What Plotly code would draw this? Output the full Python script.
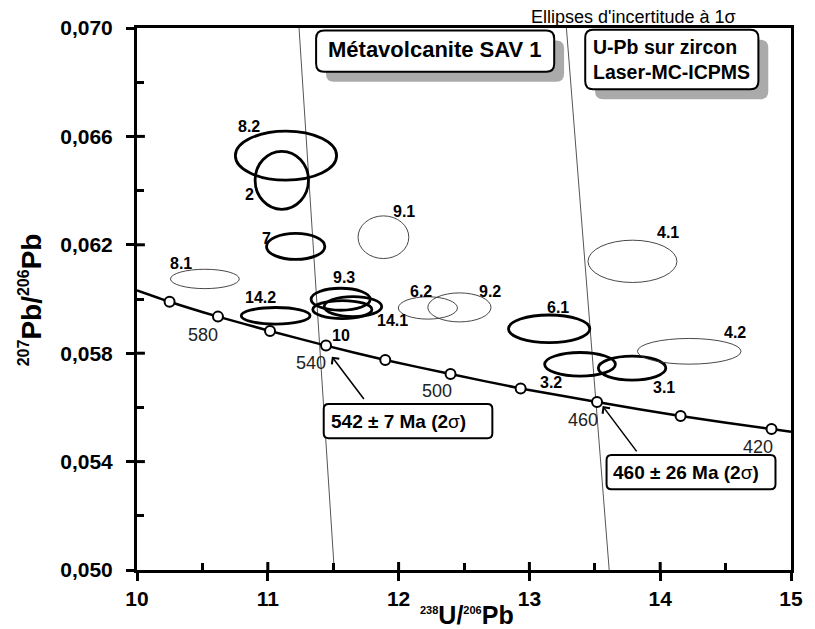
import plotly.graph_objects as go

FONT = "Liberation Sans, Arial, sans-serif"

# ---------------- data ----------------
# Concordia curve (Tera-Wasserburg)
curve_x = [10.0, 10.249, 10.619, 11.017, 11.445, 11.898, 12.397, 12.933, 13.517, 14.156, 14.851, 15.0]
curve_y = [0.06032, 0.05990, 0.05935, 0.05882, 0.05828, 0.05775, 0.05723, 0.05670, 0.05620, 0.05568, 0.05520, 0.05510]

# age ticks on the concordia (Ma)
mark_ages = [600, 580, 560, 540, 520, 500, 480, 460, 440, 420]
mark_x = [10.249, 10.619, 11.017, 11.445, 11.898, 12.397, 12.933, 13.517, 14.156, 14.851]
mark_y = [0.05990, 0.05935, 0.05882, 0.05828, 0.05775, 0.05723, 0.05670, 0.05620, 0.05568, 0.05520]

# labelled ages and label positions
age_labels = ["580", "540", "500", "460", "420"]
age_label_x = [10.506, 11.329, 12.294, 13.409, 14.748]
age_label_y = [0.05867, 0.05764, 0.05662, 0.05554, 0.05455]

# analyses: 1-sigma error ellipses (centre, half-widths)
spot_names = ["8.2", "2", "7", "8.1", "14.2", "9.1", "9.3", "14.1", "10", "6.2", "9.2", "6.1", "3.2", "3.1", "4.2", "4.1"]
spot_x = [11.139, 11.107, 11.213, 10.519, 11.060, 11.884, 11.557, 11.651, 11.570, 12.224, 12.465, 13.151, 13.387, 13.785, 14.222, 13.788]
spot_y = [0.06529, 0.06438, 0.06194, 0.06074, 0.05938, 0.06228, 0.05999, 0.05972, 0.05961, 0.05967, 0.05969, 0.05890, 0.05759, 0.05745, 0.05807, 0.06139]
spot_sx = [0.387, 0.204, 0.223, 0.263, 0.263, 0.194, 0.226, 0.220, 0.226, 0.226, 0.2415, 0.311, 0.2705, 0.258, 0.396, 0.340]
spot_sy = [0.000904, 0.00107, 0.00048, 0.000357, 0.000307, 0.000787, 0.000406, 0.000369, 0.000332, 0.000412, 0.000535, 0.000510, 0.000436, 0.000443, 0.000474, 0.000780]
spot_used = [True, True, True, False, True, False, True, True, True, False, False, True, True, True, False, False]
spot_label_x = [10.853, 10.859, 10.989, 10.338, 10.946, 12.042, 11.579, 11.954, 11.563, 12.168, 12.696, 13.220, 13.167, 14.031, 14.572, 14.063]
spot_label_y = [0.06638, 0.06384, 0.06224, 0.06132, 0.06006, 0.06322, 0.06079, 0.05920, 0.05867, 0.06027, 0.06027, 0.05969, 0.05692, 0.05673, 0.05877, 0.06246]

# discordia lines (x at y = 0.070 and y = 0.050)
disc_y = [0.070, 0.050]
disc1_x = [11.239, 11.508]
disc2_x = [13.283, 13.610]

# intercept ages and arrow tips
intercept_texts = ["542 ± 7 Ma (2σ)", "460 ± 26 Ma (2σ)"]
intercept_x = [11.490, 13.560]
intercept_y = [0.05787, 0.05605]

# axes
x_ticks = [10, 11, 12, 13, 14, 15]
x_minor = [10.5, 11.5, 12.5, 13.5, 14.5]
y_ticks = [0.050, 0.054, 0.058, 0.062, 0.066, 0.070]
y_minor = [0.052, 0.056, 0.060, 0.064, 0.068]

# ---------------- layout geometry ----------------
W, H = 815, 629
ML, MR, MT, MB = 137, 16, 28, 59
PW, PH = W - ML - MR, H - MT - MB


def pxx(p):
    return (p - ML) / PW


def pxy(p):
    return 1 - (p - MT) / PH


def rrect(x0, y0, x1, y1, r):
    rx, ry = r, r
    pts = [
        ("M", [(x0 + rx, y0)]),
        ("L", [(x1 - rx, y0)]),
        ("Q", [(x1, y0), (x1, y0 + ry)]),
        ("L", [(x1, y1 - ry)]),
        ("Q", [(x1, y1), (x1 - rx, y1)]),
        ("L", [(x0 + rx, y1)]),
        ("Q", [(x0, y1), (x0, y1 - ry)]),
        ("L", [(x0, y0 + ry)]),
        ("Q", [(x0, y0), (x0 + rx, y0)]),
    ]
    s = ""
    for cmd, ps in pts:
        s += cmd + " ".join(f"{pxx(a):.5f},{pxy(b):.5f}" for a, b in ps) + " "
    return s + "Z"


fig = go.Figure()

# discordia lines
for dx in (disc1_x, disc2_x):
    fig.add_trace(go.Scatter(x=dx, y=disc_y, mode="lines",
                             line=dict(color="#555555", width=1), hoverinfo="skip"))

# concordia
fig.add_trace(go.Scatter(x=curve_x, y=curve_y, mode="lines",
                         line=dict(color="black", width=2.5, shape="spline", smoothing=0.6),
                         hoverinfo="skip"))
fig.add_trace(go.Scatter(x=mark_x, y=mark_y, mode="markers",
                         marker=dict(symbol="circle", size=10, color="white",
                                     line=dict(color="black", width=2)),
                         text=[str(a) for a in mark_ages], hoverinfo="text"))

shapes = []
# error ellipses
for cx, cy, sx, sy, used in zip(spot_x, spot_y, spot_sx, spot_sy, spot_used):
    shapes.append(dict(type="circle", xref="x", yref="y",
                       x0=cx - sx, x1=cx + sx, y0=cy - sy, y1=cy + sy,
                       line=dict(color="black" if used else "#333333", width=2.8 if used else 0.9),
                       fillcolor="rgba(0,0,0,0)"))

# inside part of major ticks (ticks cross the axis in the original)
for v in x_ticks[1:-1]:
    shapes.append(dict(type="line", xref="x", yref="paper", x0=v, x1=v, y0=0, y1=8 / PH,
                       line=dict(color="black", width=3)))
for v in y_ticks[1:-1]:
    shapes.append(dict(type="line", xref="paper", yref="y", x0=0, x1=8 / PW, y0=v, y1=v,
                       line=dict(color="black", width=3)))

# title boxes with shadows
boxes = [(318.3, 30.5, 559.3, 71.7), (590.7, 29.8, 766.0, 89.3)]
for (x0, y0, x1, y1) in boxes:
    shapes.append(dict(type="path", xref="paper", yref="paper",
                       path=rrect(x0 + 10, y0 + 10, x1 + 10, y1 + 10, 8),
                       fillcolor="#aaaaaa", line=dict(width=0)))
    shapes.append(dict(type="path", xref="paper", yref="paper",
                       path=rrect(x0, y0, x1, y1, 8),
                       fillcolor="white", line=dict(color="black", width=2)))

# intercept boxes
ibox = [(326.0, 404.0, 496.7, 438.3), (612.3, 455.0, 783.3, 489.3)]
for (x0, y0, x1, y1) in ibox:
    shapes.append(dict(type="path", xref="paper", yref="paper",
                       path=rrect(x0, y0, x1, y1, 5),
                       fillcolor="white", line=dict(color="black", width=2)))

annotations = []
# ellipse labels
for name, lx, ly in zip(spot_names, spot_label_x, spot_label_y):
    annotations.append(dict(x=lx, y=ly, xref="x", yref="y", text=f"<b>{name}</b>",
                            showarrow=False, font=dict(family=FONT, size=16, color="black")))
# age labels
for t, lx, ly in zip(age_labels, age_label_x, age_label_y):
    annotations.append(dict(x=lx, y=ly, xref="x", yref="y", text=t, showarrow=False,
                            font=dict(family=FONT, size=18, color="#222222")))

# arrows to intercepts
arrow_off = [(34, 45), (36, 48)]
for ix, iy, (ax, ay) in zip(intercept_x, intercept_y, arrow_off):
    annotations.append(dict(x=ix, y=iy, xref="x", yref="y", text=" ", showarrow=True,
                            ax=ax, ay=ay, arrowhead=4, arrowsize=1.2, arrowwidth=1.5,
                            arrowcolor="black", standoff=0, startstandoff=0,
                            font=dict(size=2)))

# intercept texts
for t, (x0, y0, x1, y1) in zip(intercept_texts, ibox):
    tb = t.replace("(2σ)", "(2</b>σ<b>)")
    annotations.append(dict(x=pxx(x0 + 5), y=pxy((y0 + y1) / 2), xref="paper", yref="paper",
                            text=f"<b>{tb}</b>", showarrow=False, xanchor="left", yanchor="middle",
                            font=dict(family=FONT, size=19, color="black")))

# title box texts
annotations.append(dict(x=pxx(439), y=pxy(49), xref="paper", yref="paper",
                        text="<b>Métavolcanite SAV 1</b>", showarrow=False,
                        xanchor="center", yanchor="middle",
                        font=dict(family=FONT, size=22, color="black")))
annotations.append(dict(x=pxx(597), y=pxy(59), xref="paper", yref="paper",
                        text="<b>U-Pb sur zircon<br>Laser-MC-ICPMS</b>", showarrow=False,
                        xanchor="left", yanchor="middle", align="left",
                        font=dict(family=FONT, size=19.5, color="black")))
annotations.append(dict(x=pxx(640), y=pxy(17), xref="paper", yref="paper",
                        text="Ellipses d'incertitude à 1σ", showarrow=False,
                        xanchor="center", yanchor="middle",
                        font=dict(family=FONT, size=18, color="black")))

# axis titles
annotations.append(dict(x=pxx(30), y=pxy(300), xref="paper", yref="paper", textangle=-90,
                        text="<b><sup><span style='font-size:16px'>207</span></sup>Pb/"
                             "<sup><span style='font-size:16px'>206</span></sup>Pb</b>",
                        showarrow=False, xanchor="center", yanchor="middle",
                        font=dict(family=FONT, size=28, color="black")))
annotations.append(dict(x=pxx(471), y=pxy(615), xref="paper", yref="paper",
                        text="<b><sup><span style='font-size:11px'>238</span></sup>U/"
                             "<sup><span style='font-size:11px'>206</span></sup>Pb</b>",
                        showarrow=False, xanchor="center", yanchor="middle",
                        font=dict(family=FONT, size=25, color="black")))

axis_common = dict(showline=True, linewidth=3, linecolor="black", mirror=True,
                   showgrid=False, zeroline=False, ticks="outside", ticklen=8,
                   tickwidth=3, tickcolor="black",
                   tickfont=dict(family=FONT, size=21, color="black", weight="bold"))

fig.update_layout(
    width=W, height=H, margin=dict(l=ML, r=MR, t=MT, b=MB),
    plot_bgcolor="white", paper_bgcolor="white", showlegend=False,
    separators=",.",
    xaxis=dict(range=[10, 15], tickvals=x_ticks, tickformat="d",
               minor=dict(tickvals=x_minor, ticks="inside", ticklen=7, tickwidth=3,
                          tickcolor="black", showgrid=False),
               **axis_common),
    yaxis=dict(range=[0.050, 0.070], tickvals=y_ticks, tickformat=".3f",
               ticklabelstandoff=9,
               minor=dict(tickvals=y_minor, ticks="inside", ticklen=7, tickwidth=3,
                          tickcolor="black", showgrid=False),
               **axis_common),
    shapes=shapes,
    annotations=annotations,
)

fig.write_html("out.html")
